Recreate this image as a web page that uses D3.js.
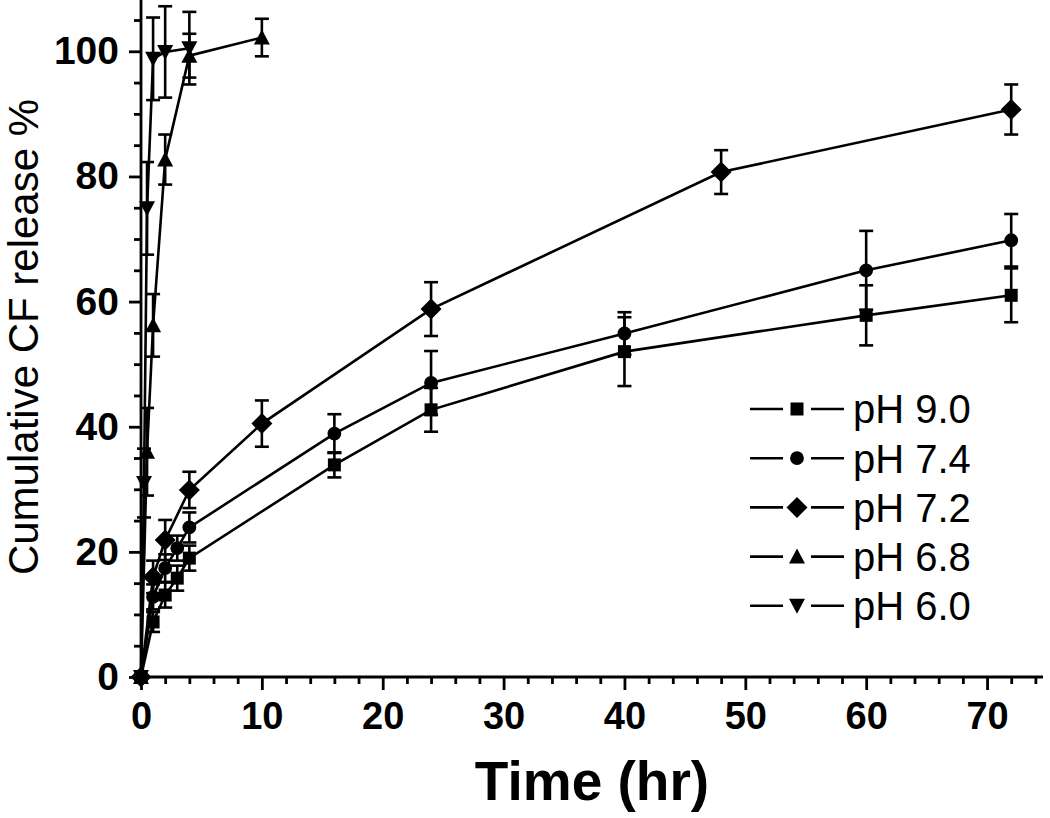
<!DOCTYPE html>
<html>
<head>
<meta charset="utf-8">
<script src="https://cdn.jsdelivr.net/npm/d3@7"></script>
<style>
  html, body { margin: 0; padding: 0; background: #fff; }
  svg { display: block; }
  text { font-family: "Liberation Sans", Arial, sans-serif; fill: #000; }
</style>
</head>
<body>
<svg id="chart" width="1050" height="818"></svg>
<script>
// ---- data ----
const seriesNames = ["pH 9.0", "pH 7.4", "pH 7.2", "pH 6.8", "pH 6.0"];
const seriesShapes = ["square", "circle", "diamond", "triangleUp", "triangleDown"];

const timePH90 = [0, 1, 2, 3, 4, 16, 24, 40, 60, 72];
const valPH90  = [0, 8.8, 13.1, 15.8, 19.0, 33.9, 42.7, 52.0, 57.8, 61.0];
const errPH90  = [0, 1.6, 2.0, 2.0, 2.0, 2.0, 3.5, 5.5, 4.8, 4.3];

const timePH74 = [0, 1, 2, 3, 4, 16, 24, 40, 60, 72];
const valPH74  = [0, 12.8, 17.4, 20.6, 23.9, 38.9, 47.0, 54.9, 65.0, 69.8];
const errPH74  = [0, 2.0, 2.2, 2.0, 2.4, 3.1, 5.1, 3.4, 6.3, 4.2];

const timePH72 = [0, 1, 2, 4, 10, 24, 48, 72];
const valPH72  = [0, 16.0, 21.9, 29.9, 40.5, 58.8, 80.7, 90.7];
const errPH72  = [0, 2.6, 3.2, 2.9, 3.7, 4.3, 3.5, 4.0];

const timePH68 = [0, 0.5, 1, 2, 4, 10];
const valPH68  = [0, 36.0, 56.2, 82.7, 99.3, 102.2];
const errPH68  = [0, 7.0, 5.0, 4.0, 3.5, 3.0];

const timePH60 = [0, 0.25, 0.5, 1, 2, 4];
const valPH60  = [0, 31.0, 74.9, 98.8, 99.9, 100.5];
const errPH60  = [0, 5.5, 7.4, 6.6, 7.3, 5.8];

const xMajorTicks = [0, 10, 20, 30, 40, 50, 60, 70];
const xMinorTicks = [2, 4, 6, 8, 12, 14, 16, 18, 22, 24, 26, 28, 32, 34, 36, 38, 42, 44, 46, 48, 52, 54, 56, 58, 62, 64, 66, 68, 72, 74];
const yMajorTicks = [0, 20, 40, 60, 80, 100];
const yMinorTicks = [5, 10, 15, 25, 30, 35, 45, 50, 55, 65, 70, 75, 85, 90, 95, 105];

const xTitle = "Time (hr)";
const yTitle = "Cumulative CF release %";

// ---- build ----
const series = [
  {name: seriesNames[0], shape: seriesShapes[0], t: timePH90, v: valPH90, e: errPH90},
  {name: seriesNames[1], shape: seriesShapes[1], t: timePH74, v: valPH74, e: errPH74},
  {name: seriesNames[2], shape: seriesShapes[2], t: timePH72, v: valPH72, e: errPH72},
  {name: seriesNames[3], shape: seriesShapes[3], t: timePH68, v: valPH68, e: errPH68},
  {name: seriesNames[4], shape: seriesShapes[4], t: timePH60, v: valPH60, e: errPH60}
].map(s => ({...s, pts: s.t.map((t, i) => ({t, v: s.v[i], e: s.e[i]}))}));

const svg = d3.select("#chart");
const x = d3.scaleLinear().domain([0, 74.63]).range([141, 1043]);
const y = d3.scaleLinear().domain([0, 108.2]).range([677, 0]);

function shapePath(shape) {
  switch (shape) {
    case "square": return "M-6.5,-6.5H6.5V6.5H-6.5Z";
    case "circle": return d3.symbol(d3.symbolCircle, 150)();
    case "diamond": return "M0,-10.5L10.5,0L0,10.5L-10.5,0Z";
    case "triangleUp": return "M0,-8L8,7L-8,7Z";
    case "triangleDown": return "M0,8L8,-7L-8,-7Z";
  }
}

const lw = 2.6;
const plot = svg.append("g");

// lines
const line = d3.line().x(d => x(d.t)).y(d => y(d.v));
series.forEach(s => {
  plot.append("path").datum(s.pts)
    .attr("d", line).attr("fill", "none")
    .attr("stroke", "#000").attr("stroke-width", lw);
});

// error bars
const capW = 7;
series.forEach(s => {
  const g = plot.append("g").attr("stroke", "#000").attr("stroke-width", lw);
  s.pts.filter(d => d.e > 0).forEach(d => {
    g.append("line").attr("x1", x(d.t)).attr("x2", x(d.t))
      .attr("y1", y(d.v + d.e)).attr("y2", y(d.v - d.e));
    g.append("line").attr("x1", x(d.t) - capW).attr("x2", x(d.t) + capW)
      .attr("y1", y(d.v + d.e)).attr("y2", y(d.v + d.e));
    g.append("line").attr("x1", x(d.t) - capW).attr("x2", x(d.t) + capW)
      .attr("y1", y(d.v - d.e)).attr("y2", y(d.v - d.e));
  });
});

// markers
series.forEach(s => {
  plot.append("g").selectAll("path").data(s.pts).join("path")
    .attr("d", shapePath(s.shape))
    .attr("transform", d => `translate(${x(d.t)},${y(d.v)})`)
    .attr("fill", "#000");
});

// axes
const axW = 2.8;
function styleAxis(g) {
  g.select(".domain").remove();
  g.selectAll("line").attr("stroke", "#000").attr("stroke-width", axW);
}
const xMajor = svg.append("g").attr("transform", "translate(0,677)")
  .call(d3.axisBottom(x).tickValues(xMajorTicks).tickSize(13).tickPadding(12).tickFormat(d3.format("d")));
styleAxis(xMajor);
xMajor.selectAll("text").attr("font-size", 38).attr("font-weight", "bold").attr("dy", "0.71em");
const xMinor = svg.append("g").attr("transform", "translate(0,677)")
  .call(d3.axisBottom(x).tickValues(xMinorTicks).tickSize(7).tickFormat(""));
styleAxis(xMinor);

const yMajor = svg.append("g").attr("transform", "translate(141,0)")
  .call(d3.axisLeft(y).tickValues(yMajorTicks).tickSize(12).tickPadding(10).tickFormat(d3.format("d")));
styleAxis(yMajor);
yMajor.selectAll("text").attr("font-size", 39).attr("font-weight", "bold");
const yMinor = svg.append("g").attr("transform", "translate(141,0)")
  .call(d3.axisLeft(y).tickValues(yMinorTicks).tickSize(7).tickFormat(""));
styleAxis(yMinor);

// axis lines
svg.append("line").attr("x1", 141).attr("x2", 141).attr("y1", 0).attr("y2", 678)
  .attr("stroke", "#000").attr("stroke-width", axW);
svg.append("line").attr("x1", 140).attr("x2", 1043).attr("y1", 677).attr("y2", 677)
  .attr("stroke", "#000").attr("stroke-width", axW);

// titles
svg.append("text").attr("x", (x.range()[0] + x.range()[1]) / 2).attr("y", 800)
  .attr("text-anchor", "middle").attr("font-size", 55).attr("font-weight", "bold")
  .text(xTitle);
svg.append("text").attr("transform", "translate(38,337) rotate(-90)")
  .attr("text-anchor", "middle").attr("font-size", 42)
  .text(yTitle);

// legend
const legend = svg.append("g");
series.forEach((s, i) => {
  const cy = 409 + i * 49.2;
  const g = legend.append("g").attr("transform", `translate(0,${cy})`);
  g.append("line").attr("x1", 750).attr("x2", 783).attr("y1", 0).attr("y2", 0)
    .attr("stroke", "#000").attr("stroke-width", lw);
  g.append("line").attr("x1", 811).attr("x2", 844).attr("y1", 0).attr("y2", 0)
    .attr("stroke", "#000").attr("stroke-width", lw);
  g.append("path").attr("d", shapePath(s.shape)).attr("transform", "translate(797,0)").attr("fill", "#000");
  g.append("text").attr("x", 853).attr("y", 0).attr("dy", "0.36em")
    .attr("font-size", 40).text(s.name);
});
</script>
</body>
</html>
